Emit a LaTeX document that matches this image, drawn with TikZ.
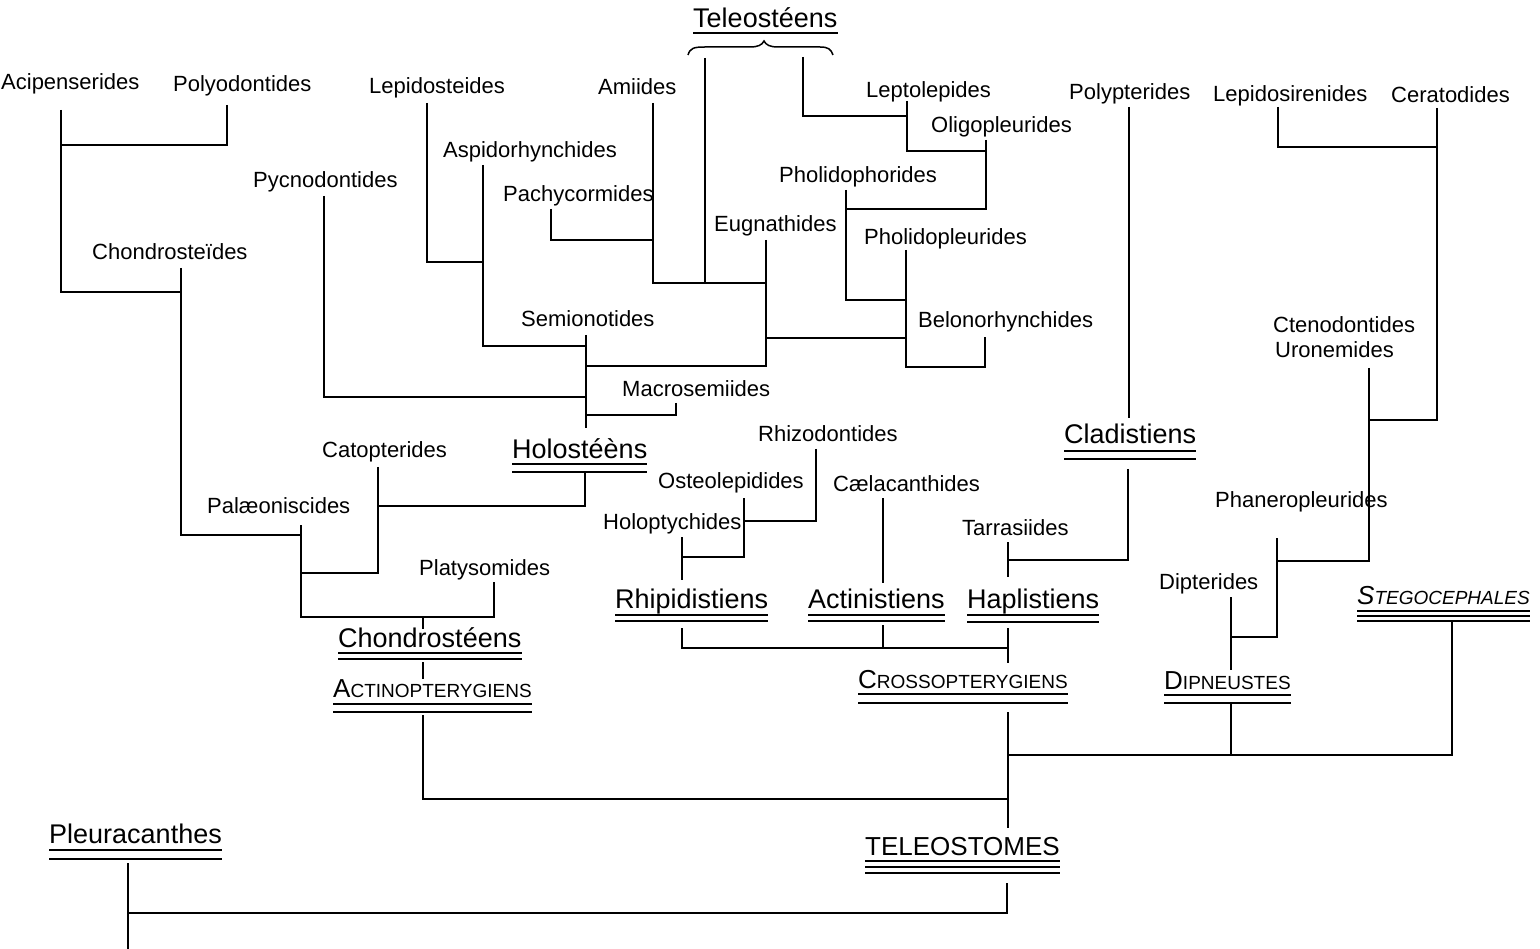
\documentclass[tikz,border=0pt]{standalone}
\usepackage{fontspec}
\setmainfont{Liberation Sans}
\newcommand\fsc[2]{{\fontsize{26}{30}\selectfont #1}{\fontsize{19}{22}\selectfont #2}}
\newcommand\ulines[2]{\foreach \o in {#2}{\draw[ul] ([yshift=-\o pt]#1.base west) -- ([yshift=-\o pt]#1.base east);}}
\tikzset{
  lab/.style={inner sep=0pt, anchor=base west, font=\fontsize{22}{26}\selectfont},
  big/.style={inner sep=0pt, anchor=base west, font=\fontsize{27}{32}\selectfont},
  capl/.style={inner sep=0pt, anchor=base west},
  br/.style={line width=1.7pt, line join=miter},
  ul/.style={line width=1.5pt},
}
\begin{document}
\begin{tikzpicture}[x=1pt,y=-1pt]
\useasboundingbox (0,0) rectangle (1540,949);
% ---------- labels ----------
\node[lab] (aci) at (1,90) {Acipenserides};
\node[lab] (pol) at (173,92) {Polyodontides};
\node[lab] (lep) at (369,94) {Lepidosteides};
\node[lab] (ami) at (598,95) {Amiides};
\node[lab] (lpt) at (866,98) {Leptolepides};
\node[lab] (oli) at (931,133) {Oligopleurides};
\node[lab] (plp) at (1069,100) {Polypterides};
\node[lab] (lsr) at (1213,102) {Lepidosirenides};
\node[lab] (cer) at (1391,103) {Ceratodides};
\node[lab] (asp) at (443,158) {Aspidorhynchides};
\node[lab] (pyc) at (253,188) {Pycnodontides};
\node[lab] (pac) at (503,202) {Pachycormides};
\node[lab] (pho) at (779,183) {Pholidophorides};
\node[lab] (eug) at (714,232) {Eugnathides};
\node[lab] (ppl) at (864,245) {Pholidopleurides};
\node[lab] (chd) at (92,260) {Chondroste\"ides};
\node[lab] (sem) at (521,327) {Semionotides};
\node[lab] (bel) at (918,328) {Belonorhynchides};
\node[lab] (cte) at (1273,333) {Ctenodontides};
\node[lab] (uro) at (1275,358) {Uronemides};
\node[lab] (mac) at (622,397) {Macrosemiides};
\node[lab] (cat) at (322,457) {Catopterides};
\node[lab] (rhz) at (758,442) {Rhizodontides};
\node[lab] (ost) at (658,489) {Osteolepidides};
\node[lab] (coe) at (833,491) {C\ae lacanthides};
\node[lab] (hop) at (603,529) {Holoptychides};
\node[lab] (pal) at (207,513) {Pal\ae oniscides};
\node[lab] (tar) at (962,535) {Tarrasiides};
\node[lab] (pha) at (1215,507) {Phaneropleurides};
\node[lab] (pla) at (419,575) {Platysomides};
\node[lab] (dpt) at (1159,589) {Dipterides};
% big labels
\node[big] (tel) at (693,28) {Teleostéens};
\node[big] (hol) at (512,458) {Holostéèns};
\node[big] (chs) at (338,647) {Chondrostéens};
\node[big] (rhp) at (615,608) {Rhipidistiens};
\node[big] (acn) at (808,608) {Actinistiens};
\node[big] (hap) at (967,608) {Haplistiens};
\node[big] (cla) at (1064,444) {Cladistiens};
\node[big] (ple) at (49,843) {Pleuracanthes};
\node[capl,font=\fontsize{26}{30}\selectfont] (tos) at (865,855) {TELEOSTOMES};
\node[capl] (cro) at (858,688) {\fsc{C}{ROSSOPTERYGIENS}};
\node[capl] (act) at (333,697) {\fsc{A}{CTINOPTERYGIENS}};
\node[capl] (dip) at (1164,689) {\fsc{D}{IPNEUSTES}};
\node[capl,font=\itshape] (ste) at (1357,604) {\fsc{S}{TEGOCEPHALES}};
% underlines
\ulines{tel}{5}
\ulines{hol}{6,14}
\ulines{chs}{6,12}
\ulines{rhp}{7,13}
\ulines{acn}{7,13}
\ulines{hap}{7,14}
\ulines{cla}{7,15}
\ulines{ple}{7,16}
\ulines{tos}{6,12,18}
\ulines{cro}{6,15}
\ulines{act}{7,15}
\ulines{dip}{6,14}
\ulines{ste}{7,12,17}
% brace under Teleosteens
\draw[line width=1.5pt] (688,55) .. controls (690,48) and (694,47) .. (705,47) -- (750,47)
  .. controls (758,47) and (762,45) .. (764,41) .. controls (766,45) and (770,47) .. (778,47)
  -- (820,47) .. controls (828,47) and (831,49) .. (833,55);
% ---------- coordinates ----------
\coordinate (aciT) at (61,110);  \coordinate (polT) at (227,105);
\coordinate (j1) at (61,145);    \coordinate (j2) at (61,292);
\coordinate (chdT) at (181,268); \coordinate (j3) at (181,535);
\coordinate (palT) at (301,525); \coordinate (j4) at (301,573);
\coordinate (catT) at (378,467); \coordinate (j5) at (378,506);
\coordinate (holB) at (585,473); \coordinate (j6) at (301,617);
\coordinate (plaT) at (494,582); \coordinate (j7) at (423,617);
\coordinate (chsT) at (423,629); \coordinate (chsB) at (423,662);
\coordinate (actT) at (423,679); \coordinate (actB) at (423,715);
\coordinate (teloJ) at (1007,799);
\coordinate (lepT) at (427,103); \coordinate (aspJ) at (483,262);
\coordinate (aspT) at (483,165); \coordinate (semJ1) at (586,346);
\coordinate (pycT) at (324,196); \coordinate (semJ2) at (586,397);
\coordinate (semT) at (586,335); \coordinate (semB) at (586,428);
\coordinate (macT) at (676,403); \coordinate (semJ3) at (586,415);
\coordinate (eugT) at (766,240); \coordinate (semJ4) at (586,366);
\coordinate (amiT) at (653,103); \coordinate (eugJ2) at (766,283);
\coordinate (pacT) at (551,209); \coordinate (amiJ) at (653,240);
\coordinate (telL) at (705,58);  \coordinate (telLB) at (705,283);
\coordinate (telR) at (803,57);  \coordinate (lepJ) at (907,116);
\coordinate (lptT) at (907,101); \coordinate (oliJ) at (986,151);
\coordinate (oliT) at (986,140); \coordinate (phoJ) at (846,209);
\coordinate (phoT) at (846,190); \coordinate (pplJ) at (906,300);
\coordinate (pplT) at (906,250); \coordinate (belJ2) at (906,367);
\coordinate (belT) at (985,337); \coordinate (belJ) at (906,338);
\coordinate (eugJ3) at (766,338);
\coordinate (rhzT) at (816,449); \coordinate (ostJ) at (744,521);
\coordinate (ostT) at (744,498); \coordinate (hopJ) at (682,557);
\coordinate (hopT) at (682,537); \coordinate (rhpT) at (682,580);
\coordinate (rhpB) at (682,628); \coordinate (croJ) at (1008,648);
\coordinate (coeT) at (883,498); \coordinate (acnT) at (883,583);
\coordinate (acnB) at (883,625); \coordinate (acnJ) at (883,648);
\coordinate (tarT) at (1008,542); \coordinate (hapT) at (1008,577);
\coordinate (claB) at (1128,469); \coordinate (tarJ) at (1008,560);
\coordinate (plpT) at (1129,107); \coordinate (claT) at (1129,418);
\coordinate (hapB) at (1008,628); \coordinate (croT) at (1008,663);
\coordinate (croB) at (1008,712); \coordinate (tosT) at (1008,828);
\coordinate (dipJ) at (1008,755); \coordinate (steB) at (1452,622);
\coordinate (dipB) at (1231,703); \coordinate (dipJ2) at (1231,755);
\coordinate (tosB) at (1007,883); \coordinate (pleJ) at (128,913);
\coordinate (pleB) at (128,863); \coordinate (bot) at (128,949);
\coordinate (lsrT) at (1278,107); \coordinate (cerJ) at (1437,147);
\coordinate (cerT) at (1437,108); \coordinate (uroJ) at (1369,420);
\coordinate (uroT) at (1369,368); \coordinate (phaJ) at (1277,561);
\coordinate (phaT) at (1277,538); \coordinate (dptJ) at (1231,637);
\coordinate (dptT) at (1231,597); \coordinate (dipT) at (1231,670);
% ---------- connectors ----------
\draw[br] (aciT) -- (j2) -| (chdT);
\draw[br] (polT) |- (j1);
\draw[br] (chdT) -- (j3) -| (palT);
\draw[br] (palT) -- (j6) -| (plaT);
\draw[br] (catT) |- (j4);
\draw[br] (holB) |- (j5);
\draw[br] (j7) -- (chsT);
\draw[br] (chsB) -- (actT);
\draw[br] (actB) |- (teloJ);
\draw[br] (lepT) |- (aspJ);
\draw[br] (aspT) |- (semJ1);
\draw[br] (pycT) |- (semJ2);
\draw[br] (semT) -- (semB);
\draw[br] (macT) |- (semJ3);
\draw[br] (eugT) |- (semJ4);
\draw[br] (amiT) |- (eugJ2);
\draw[br] (pacT) |- (amiJ);
\draw[br] (telL) -- (telLB);
\draw[br] (telR) |- (lepJ);
\draw[br] (lptT) |- (oliJ);
\draw[br] (oliT) |- (phoJ);
\draw[br] (phoT) |- (pplJ);
\draw[br] (pplT) -- (belJ2) -| (belT);
\draw[br] (belJ) -- (eugJ3);
\draw[br] (rhzT) |- (ostJ);
\draw[br] (ostT) |- (hopJ);
\draw[br] (hopT) -- (rhpT);
\draw[br] (rhpB) |- (croJ);
\draw[br] (coeT) -- (acnT);
\draw[br] (acnB) -- (acnJ);
\draw[br] (tarT) -- (hapT);
\draw[br] (claB) |- (tarJ);
\draw[br] (plpT) -- (claT);
\draw[br] (hapB) -- (croT);
\draw[br] (croB) -- (tosT);
\draw[br] (dipJ) -| (steB);
\draw[br] (dipB) -- (dipJ2);
\draw[br] (tosB) |- (pleJ);
\draw[br] (pleB) -- (bot);
\draw[br] (lsrT) |- (cerJ);
\draw[br] (cerT) |- (uroJ);
\draw[br] (uroT) |- (phaJ);
\draw[br] (phaT) |- (dptJ);
\draw[br] (dptT) -- (dipT);
\end{tikzpicture}
\end{document}
